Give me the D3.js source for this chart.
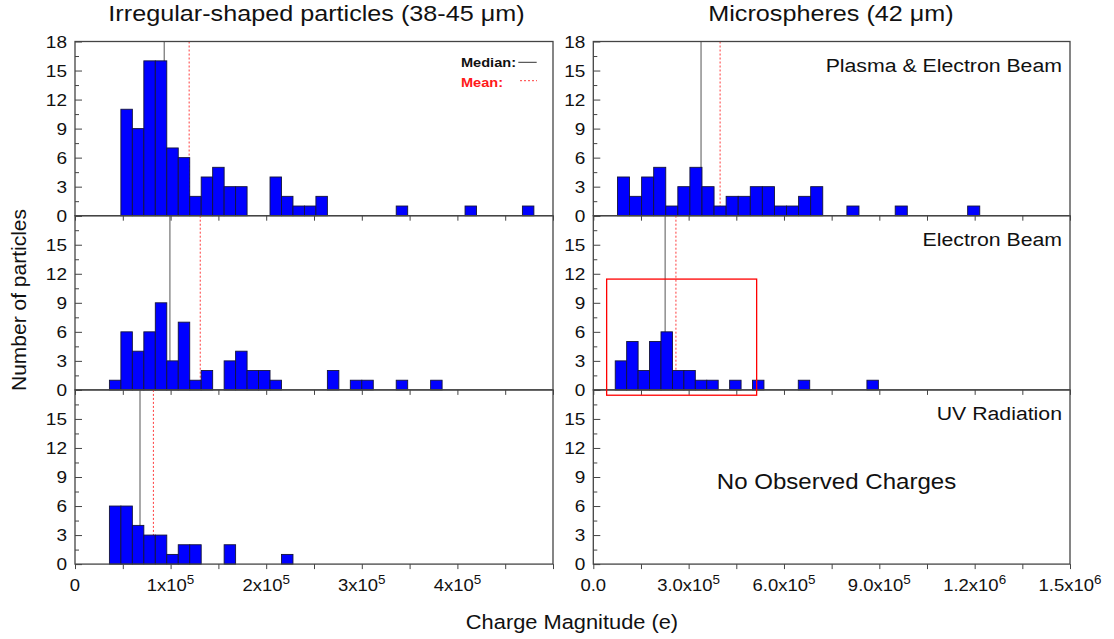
<!DOCTYPE html>
<html><head><meta charset="utf-8">
<script src="https://cdn.jsdelivr.net/npm/d3@7"></script>
<style>
body{margin:0;background:#fff}
svg{display:block}
text{font-family:"Liberation Sans",Arial,Helvetica,sans-serif;fill:#111}
</style>
</head><body>
<svg id="c" width="1114" height="639"></svg>
<script>
// ---------------- data ----------------
const columnTitles = ["Irregular-shaped particles (38-45 \u03bcm)", "Microspheres (42 \u03bcm)"];
const rowLabels = ["Plasma & Electron Beam", "Electron Beam", "UV Radiation"];
const noDataLabel = "No Observed Charges";
const xTitle = "Charge Magnitude (e)";
const yTitle = "Number of particles";

const leftTickValues = [0, 1e5, 2e5, 3e5, 4e5];
const leftTickLabels = [["0", ""], ["1x10", "5"], ["2x10", "5"], ["3x10", "5"], ["4x10", "5"]];
const rightTickValues = [0, 3e5, 6e5, 9e5, 1.2e6, 1.5e6];
const rightTickLabels = [["0.0", ""], ["3.0x10", "5"], ["6.0x10", "5"], ["9.0x10", "5"], ["1.2x10", "6"], ["1.5x10", "6"]];
const yTickValuesTop = [0, 3, 6, 9, 12, 15, 18];
const yTickValuesLower = [0, 3, 6, 9, 12, 15];

// Irregular particles, plasma & electron beam
const irregPlasmaStart = 48000, irregPlasmaWidth = 12000;
const irregPlasmaCounts = [11,9,16,16,7,6,2,4,5,3,3,0,0,4,2,1,1,2,0,0,0,0,0,0,1,0,0,0,0,0,1,0,0,0,0,1];
const irregPlasmaMedian = 93300, irregPlasmaMean = 119400;

// Irregular particles, electron beam
const irregEbeamStart = 36000, irregEbeamWidth = 12000;
const irregEbeamCounts = [1,6,4,6,9,3,7,1,2,0,3,4,2,2,1,0,0,0,0,2,0,1,1,0,0,1,0,0,1];
const irregEbeamMedian = 99300, irregEbeamMean = 131000;

// Irregular particles, UV radiation
const irregUVStart = 36000, irregUVWidth = 12000;
const irregUVCounts = [6,6,4,3,3,1,2,2,0,0,2,0,0,0,0,1];
const irregUVMedian = 68000, irregUVMean = 82000;

// Microspheres, plasma & electron beam
const microPlasmaStart = 76000, microPlasmaWidth = 38000;
const microPlasmaCounts = [4,2,4,5,1,3,5,3,1,2,2,3,3,1,1,2,3,0,0,1,0,0,0,1,0,0,0,0,0,1];
const microPlasmaMedian = 339000, microPlasmaMean = 399000;

// Microspheres, electron beam
const microEbeamStart = 69000, microEbeamWidth = 36000;
const microEbeamCounts = [3,5,2,5,6,2,2,1,1,0,1,0,1,0,0,0,1,0,0,0,0,0,1];
const microEbeamMedian = 226000, microEbeamMean = 260000;

// highlight box (data units) on microspheres / electron beam
const boxX = [42000, 514000], boxY = [-0.55, 11.45];

// ---------------- layout ----------------
const svg = d3.select("#c");
const SX = 1.12; // horizontal glyph stretch
const rowTop = [41.5, 215.7, 389.9], rowH = 174.2;
const xL = d3.scaleLinear().domain([0, 5e5]).range([75, 553]);
const xR = d3.scaleLinear().domain([0, 1.5e6]).range([593.3, 1070]);
const yS = rowTop.map(t => d3.scaleLinear().domain([0, 18]).range([t + rowH, t]));

function text(g, x, y, s, size, anchor, opts = {}) {
  const t = g.append("text")
    .attr("transform", `translate(${x},${y}) scale(${opts.sx || SX},1)`)
    .attr("text-anchor", anchor || "start")
    .style("font-size", size + "px");
  if (opts.weight) t.style("font-weight", opts.weight);
  if (opts.fill) t.style("fill", opts.fill);
  if (opts.baseline) t.attr("dy", opts.baseline);
  t.text(s);
  return t;
}

const panels = [
  {col: 0, row: 0, start: irregPlasmaStart, width: irregPlasmaWidth, counts: irregPlasmaCounts, median: irregPlasmaMedian, mean: irregPlasmaMean},
  {col: 0, row: 1, start: irregEbeamStart, width: irregEbeamWidth, counts: irregEbeamCounts, median: irregEbeamMedian, mean: irregEbeamMean},
  {col: 0, row: 2, start: irregUVStart, width: irregUVWidth, counts: irregUVCounts, median: irregUVMedian, mean: irregUVMean},
  {col: 1, row: 0, start: microPlasmaStart, width: microPlasmaWidth, counts: microPlasmaCounts, median: microPlasmaMedian, mean: microPlasmaMean},
  {col: 1, row: 1, start: microEbeamStart, width: microEbeamWidth, counts: microEbeamCounts, median: microEbeamMedian, mean: microEbeamMean},
  {col: 1, row: 2, start: null}
];

const frameColor = "#444";

panels.forEach(p => {
  const x = p.col === 0 ? xL : xR;
  const y = yS[p.row];
  const g = svg.append("g");
  const [x0, x1] = x.range();
  const [yb, yt] = y.range();

  if (p.start !== null) {
    // median & mean lines (behind bars)
    g.append("line").attr("x1", x(p.median)).attr("x2", x(p.median))
      .attr("y1", yt).attr("y2", yb).attr("stroke", "#555").attr("stroke-width", 1);
    g.append("line").attr("x1", x(p.mean)).attr("x2", x(p.mean))
      .attr("y1", yt).attr("y2", yb).attr("stroke", "#ff3b3b").attr("stroke-width", 1)
      .attr("stroke-dasharray", "2,2");
    const bins = p.counts.map((c, i) => ({x0: p.start + i * p.width, x1: p.start + (i + 1) * p.width, c}))
      .filter(d => d.c > 0);
    g.selectAll("rect.bar").data(bins).join("rect").attr("class", "bar")
      .attr("x", d => x(d.x0)).attr("width", d => x(d.x1) - x(d.x0))
      .attr("y", d => y(d.c)).attr("height", d => y(0) - y(d.c))
      .attr("fill", "#0000ff").attr("stroke", "#14143a").attr("stroke-width", 0.9);
  }

  // y axis ticks (inward): minor + major
  const minor = d3.range(0, 18.01, 1.5).filter(v => v % 3 !== 0);
  g.append("g").attr("transform", `translate(${x0},0)`)
    .call(d3.axisLeft(y).tickValues(minor).tickSize(-4).tickFormat(""))
    .call(a => a.select(".domain").remove())
    .call(a => a.selectAll("line").attr("stroke", frameColor));
  g.append("g").attr("transform", `translate(${x0},0)`)
    .call(d3.axisLeft(y).tickValues(yTickValuesTop).tickSize(-7).tickFormat(""))
    .call(a => a.select(".domain").remove())
    .call(a => a.selectAll("line").attr("stroke", frameColor));

  // x axis ticks (outward)
  const xt = p.col === 0 ? d3.range(0, 5.01e5, 5e4) : d3.range(0, 1.501e6, 1.5e5);
  g.append("g").attr("transform", `translate(0,${yb})`)
    .call(d3.axisBottom(x).tickValues(xt).tickSize(5).tickFormat(""))
    .call(a => a.select(".domain").remove())
    .call(a => a.selectAll("line").attr("stroke", frameColor));

  // frame
  g.append("rect").attr("x", x0).attr("y", yt).attr("width", x1 - x0).attr("height", yb - yt)
    .attr("fill", "none").attr("stroke", frameColor).attr("stroke-width", 1.3);

  // y tick labels
  const labs = p.row === 0 ? yTickValuesTop : yTickValuesLower;
  labs.forEach(v => text(svg, x0 - 8, y(v), String(v), 17, "end", {baseline: "0.36em"}));

  // row label (only on microsphere column)
  if (p.col === 1) text(svg, x1 - 8, yt + 30, rowLabels[p.row], 19, "end");
});

// highlight box
svg.append("rect")
  .attr("x", xR(boxX[0])).attr("y", yS[1](boxY[1]))
  .attr("width", xR(boxX[1]) - xR(boxX[0])).attr("height", yS[1](boxY[0]) - yS[1](boxY[1]))
  .attr("fill", "none").attr("stroke", "#ff0000").attr("stroke-width", 1.3);

// x tick labels
function xLabels(scale, vals, labs) {
  vals.forEach((v, i) => {
    const t = svg.append("text")
      .attr("transform", `translate(${scale(v)},591) scale(${SX},1)`)
      .attr("text-anchor", "middle").style("font-size", "16.5px");
    t.append("tspan").text(labs[i][0]);
    if (labs[i][1]) t.append("tspan").attr("dy", -7).style("font-size", "12px").text(labs[i][1]);
  });
}
xLabels(xL, leftTickValues, leftTickLabels);
xLabels(xR, rightTickValues, rightTickLabels);

// titles
text(svg, 316.5, 21, columnTitles[0], 22.5, "middle");
text(svg, 831, 21, columnTitles[1], 22.5, "middle");
text(svg, 572, 629, xTitle, 19.5, "middle");
svg.append("text").attr("transform", "translate(26,300) rotate(-90)")
  .attr("text-anchor", "middle").style("font-size", "21px").text(yTitle);
text(svg, 836.5, 489, noDataLabel, 21.5, "middle");

// legend
text(svg, 461, 67, "Median:", 13, "start", {weight: "bold"});
svg.append("line").attr("x1", 518.3).attr("x2", 536.7).attr("y1", 62.3).attr("y2", 62.3)
  .attr("stroke", "#333").attr("stroke-width", 1);
text(svg, 461, 87, "Mean:", 13, "start", {weight: "bold", fill: "#ff1a1a"});
svg.append("line").attr("x1", 520).attr("x2", 537).attr("y1", 80.7).attr("y2", 80.7)
  .attr("stroke", "#ff3b3b").attr("stroke-width", 1).attr("stroke-dasharray", "2,2");
</script>
</body></html>
